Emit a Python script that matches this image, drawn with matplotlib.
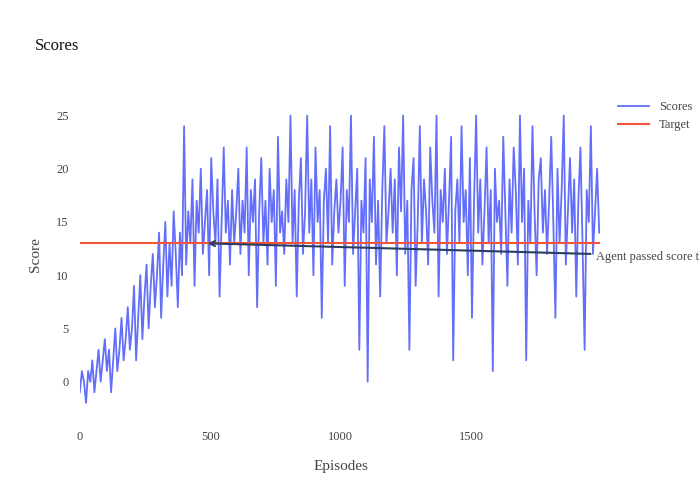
import matplotlib.pyplot as plt
import numpy as np

plt.rcParams["font.family"] = ["Liberation Serif", "DejaVu Serif"]

STEP = 8
scores = [
    -1, 1, 0, -2, 1, 0, 2, -1, 1, 3, 0, 2, 4, 1, 3, -1, 2, 5, 1, 3, 6, 2, 4, 7, 3,
    5, 9, 2, 6, 10, 4, 8, 11, 5, 9, 12, 7, 10, 14, 6, 11, 15, 8, 13, 9, 16, 12, 7, 14, 10,
    24, 11, 16, 13, 19, 9, 17, 14, 20, 12, 15, 18, 10, 21, 16, 13, 19, 8, 15, 22, 14, 17, 11, 18, 13,
    16, 20, 12, 17, 14, 22, 10, 18, 15, 19, 7, 16, 21, 13, 17, 11, 20, 15, 18, 9, 23, 14, 16, 12, 19,
    15, 25, 13, 18, 8, 17, 21, 12, 16, 25, 14, 19, 10, 22, 15, 18, 6, 17, 20, 13, 24, 11, 16, 19, 14,
    17, 22, 9, 18, 15, 25, 12, 16, 20, 3, 17, 14, 21, 0, 19, 15, 23, 11, 17, 8, 18, 24, 13, 16, 20,
    14, 19, 10, 22, 16, 25, 12, 17, 3, 18, 21, 9, 15, 24, 13, 19, 16, 11, 22, 17, 14, 25, 8, 18, 15,
    20, 12, 17, 23, 2, 16, 19, 13, 24, 15, 18, 10, 21, 6, 17, 25, 14, 19, 11, 16, 22, 13, 18, 1, 20,
    15, 17, 12, 23, 16, 9, 19, 14, 22, 18, 11, 25, 15, 20, 2, 17, 13, 24, 16, 10, 19, 21, 14, 18, 12,
    17, 23, 15, 6, 20, 13, 18, 25, 11, 16, 21, 14, 19, 8, 17, 22, 13, 3, 18, 15, 24, 12, 16, 20, 14,
]
episodes = np.arange(len(scores)) * STEP
target = 13
passed_episode = 480
label_episode = 1980
label_score = 11.7

fig = plt.figure(figsize=(7, 5), dpi=100)
ax = fig.add_axes([0.114, 0.16, 0.745, 0.66])
ax.plot(episodes, scores, color="#636efa", lw=1.3, label="Scores")
ax.plot([0, episodes[-1]], [target, target], color="#EF553B", lw=1.5, label="Target")
ax.annotate("Agent passed score threshold at episode %d" % passed_episode,
            xy=(passed_episode, target), xytext=(label_episode, label_score),
            fontsize=9, color="#444", va="center", annotation_clip=False,
            arrowprops=dict(arrowstyle="->", color="#2a3f5f", lw=1.5))
ax.set_xlim(0, 2000)
ax.set_ylim(-3.6, 27.4)
ax.set_xticks([0, 500, 1000, 1500])
ax.set_yticks([0, 5, 10, 15, 20, 25])
for s in ax.spines.values():
    s.set_visible(False)
ax.tick_params(length=0, colors="#444", labelsize=9, pad=8)
ax.set_xlabel("Episodes", fontsize=11, color="#444", labelpad=12)
ax.set_ylabel("Score", fontsize=11, color="#444", labelpad=10)
fig.text(0.05, 0.9, "Scores", fontsize=12, color="#111")
ax.legend(loc="upper left", bbox_to_anchor=(1.01, 1.0), frameon=False,
          fontsize=9, labelcolor="#444", handlelength=2.5)
fig.savefig("out.png")
